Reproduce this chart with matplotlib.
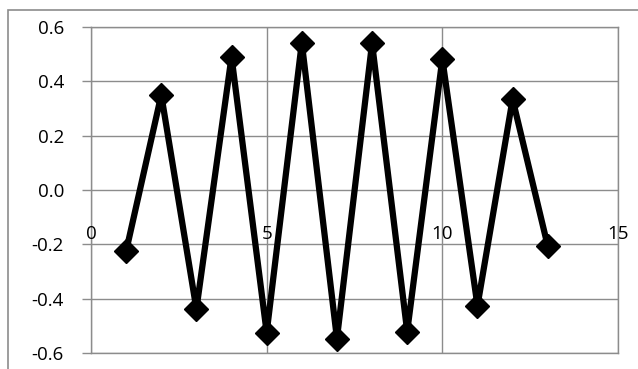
import matplotlib.pyplot as plt
from matplotlib.patches import Rectangle

# values
x_values = [1, 2, 3, 4, 5, 6, 7, 8, 9, 10, 11, 12, 13]
y_values = [-0.225, 0.35, -0.438, 0.49, -0.525, 0.542, -0.547,
            0.54, -0.521, 0.482, -0.426, 0.334, -0.206]
x_ticks = [0, 5, 10, 15]
y_ticks = [-0.6, -0.4, -0.2, 0.0, 0.2, 0.4, 0.6]

GRID = "#8c8c8c"
FONT = "Open Sans"
FSIZE = 13.5


def main():
    fig = plt.figure(figsize=(6.38, 3.69), dpi=100)
    ax = fig.add_axes([91 / 638, 1 - 353 / 369, 527 / 638, 326 / 369])

    # outer chart border (cropped at right and bottom)
    fig.patches.append(Rectangle((8 / 638, -0.1), 1.2, 1 - 10 / 369 + 0.1,
                                 transform=fig.transFigure, fill=False,
                                 edgecolor=GRID, linewidth=1.2))

    ax.plot(x_values, y_values, color="black", linewidth=4.5,
            marker="D", markersize=12.5, markerfacecolor="black",
            markeredgecolor="black", zorder=3, clip_on=False)

    ax.set_xlim(0, 15)
    ax.set_ylim(-0.6, 0.6)
    ax.set_xticks(x_ticks)
    ax.set_yticks(y_ticks)
    ax.set_xticklabels([])
    ax.set_yticklabels([f"{v:.1f}" for v in y_ticks], fontfamily=FONT, fontsize=FSIZE)
    ax.tick_params(axis="x", length=0)
    ax.tick_params(axis="y", length=6.5, width=1, color=GRID, pad=13)
    ax.grid(True, color=GRID, linewidth=1)
    for s in ax.spines.values():
        s.set_color(GRID)
        s.set_linewidth(1)

    # Excel-style x labels sitting just below the zero line
    for xt in x_ticks:
        ax.text(xt, -0.162, str(xt), ha="center", va="center",
                fontfamily=FONT, fontsize=FSIZE, zorder=4)

    fig.savefig("out.png", dpi=100)


if __name__ == "__main__":
    main()
